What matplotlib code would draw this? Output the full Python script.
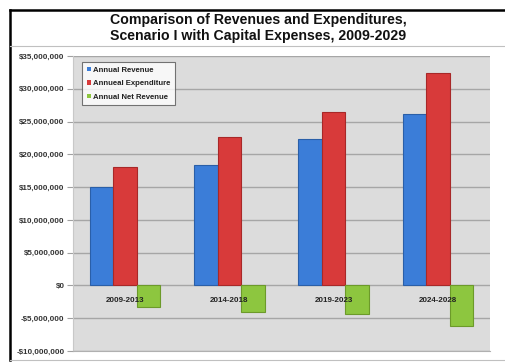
import matplotlib
matplotlib.use("Agg")
import matplotlib.pyplot as plt
import numpy as np
from matplotlib.lines import Line2D
from matplotlib.patches import Patch
import matplotlib.transforms as mtransforms

categories = ["2009-2013", "2014-2018", "2019-2023", "2024-2028"]
revenue = [15.0e6, 18.4e6, 22.3e6, 26.2e6]
expenditure = [18.0e6, 22.6e6, 26.5e6, 32.4e6]
net_revenue = [-3.3e6, -4.0e6, -4.3e6, -6.2e6]
series_names = ["Annual Revenue", "Annueal Expenditure", "Annual Net Revenue"]
yticks = [-10e6, -5e6, 0, 5e6, 10e6, 15e6, 20e6, 25e6, 30e6, 35e6]
ytick_labels = ["-$10,000,000", "-$5,000,000", "$0", "$5,000,000", "$10,000,000",
                "$15,000,000", "$20,000,000", "$25,000,000", "$30,000,000", "$35,000,000"]
title = "Comparison of Revenues and Expenditures,\nScenario I with Capital Expenses, 2009-2029"

colors = ["#3b7dd8", "#d83a3a", "#8dc63f"]
edges = ["#2a5fa8", "#a82828", "#6c9a2a"]

plt.rcParams['font.family'] = ['Liberation Sans', 'DejaVu Sans']

W, H = 506, 362
fig = plt.figure(figsize=(W / 100, H / 100), dpi=100)
fig.patch.set_facecolor("white")

ax = fig.add_axes([73 / W, 1 - 351 / H, (490 - 73) / W, (351 - 56) / H])
ax.set_facecolor("#dcdcdc")
ax.set_xlim(-0.5, len(categories) - 0.5)
ax.set_ylim(-10e6, 35e6)

x = np.arange(len(categories))
bw = 0.225
for i, (vals, c, e) in enumerate(zip([revenue, expenditure, net_revenue], colors, edges)):
    ax.bar(x + (i - 1) * bw, vals, width=bw, color=c, edgecolor=e, linewidth=0.8,
           zorder=3, label=series_names[i])

ax.set_yticks(yticks)
ax.set_yticklabels(ytick_labels, fontsize=5.8, fontweight="bold", color="#333333")
ax.tick_params(axis="y", length=4, color="#a0a0a0", pad=2)
ax.set_xticks([])
ax.yaxis.grid(True, color="#a6a6a6", linewidth=1.0, zorder=1)
ax.set_axisbelow(True)
for s in ["top", "right"]:
    ax.spines[s].set_visible(False)
ax.spines["left"].set_color("#c8c8c8")
ax.spines["bottom"].set_color("#b0b0b0")

trans = mtransforms.offset_copy(ax.transData, fig=fig, x=0, y=-10.5, units="points")
for xi, cat in zip(x, categories):
    ax.text(xi, 0, cat, transform=trans, ha="center", va="center",
            fontsize=5.8, fontweight="bold", color="#222222", zorder=5)

handles = [Patch(facecolor=c, edgecolor="none") for c in colors]
leg = ax.legend(handles, series_names, loc="upper left", bbox_to_anchor=(0.022, 0.98),
                prop={"size": 5.6, "weight": "bold"}, frameon=True, fancybox=False,
                handlelength=0.5, handleheight=0.5, handletextpad=0.3,
                borderpad=0.6, labelspacing=0.85, borderaxespad=0)
leg.get_frame().set_edgecolor("#555555")
leg.get_frame().set_linewidth(0.8)
for t in leg.get_texts():
    t.set_color("#222222")

fig.text((10 + 506) / 2 / W, 1 - 28 / H, title, ha="center", va="center",
         fontsize=10.2, fontweight="bold", color="#111111", linespacing=1.15)

# frame lines
fig.add_artist(Line2D([10 / W, 10 / W], [1 - 10 / H, 1 - 360 / H], color="black", lw=1.8))
fig.add_artist(Line2D([10 / W, 1], [1 - 10 / H, 1 - 10 / H], color="black", lw=1.8))
fig.add_artist(Line2D([10 / W, 1], [1 - 46 / H, 1 - 46 / H], color="#c0c0c0", lw=0.8))
fig.add_artist(Line2D([10 / W, 1], [1 - 360 / H, 1 - 360 / H], color="#c0c0c0", lw=0.8))

fig.savefig("out.png", dpi=100)
